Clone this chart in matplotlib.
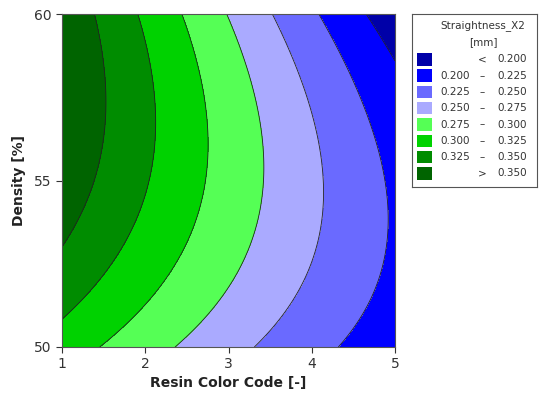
import numpy as np
import matplotlib
matplotlib.use('Agg')
from matplotlib import pyplot as plt
from matplotlib.patches import Rectangle

# response surface coefficients, coded units xc=(x-3)/2, yc=(y-55)/5
# Z = b0 + b1*xc + b2*yc + b11*xc^2 + b22*yc^2 + b12*xc*yc
coef = [0.290, -0.072, 0.008, 0.003, -0.024, -0.020]

levels = [0.0, 0.200, 0.225, 0.250, 0.275, 0.300, 0.325, 0.350, 1.0]
colors = ['#0000a8', '#0000ff', '#6a6aff', '#aaaaff',
          '#55ff55', '#00d200', '#008c00', '#006400']
labels = ['<', '0.200', '0.225', '0.250', '0.275', '0.300', '0.325', '>']
upper = ['0.200', '0.225', '0.250', '0.275', '0.300', '0.325', '0.350', '0.350']

x = np.linspace(1, 5, 300)
y = np.linspace(50, 60, 300)
X, Y = np.meshgrid(x, y)
xc = (X - 3) / 2
yc = (Y - 55) / 5
b0, b1, b2, b11, b22, b12 = coef
Z = b0 + b1*xc + b2*yc + b11*xc**2 + b22*yc**2 + b12*xc*yc

fig = plt.figure(figsize=(5.5, 3.97), dpi=100)
ax = fig.add_axes([62/550, 1-347/397, 333/550, 333/397])
ax.contourf(X, Y, Z, levels=levels, colors=colors)
ax.contour(X, Y, Z, levels=levels[1:-1], colors='#222222', linewidths=0.6)
ax.set_xlim(1, 5)
ax.set_ylim(50, 60)
ax.set_xticks([1, 2, 3, 4, 5])
ax.set_yticks([50, 55, 60])
ax.tick_params(labelsize=10, colors='#333333', length=4, width=0.8)
for s in ax.spines.values():
    s.set_color('#555555')
ax.set_xlabel('Resin Color Code [-]', fontsize=10, fontweight='bold', color='#222222', labelpad=3)
ax.set_ylabel('Density [%]', fontsize=10, fontweight='bold', color='#222222', labelpad=6)

# legend box
lg = fig.add_axes([412/550, 1-187/397, 125/550, 173/397])
lg.set_xlim(412, 537)
lg.set_ylim(187, 14)
lg.set_xticks([])
lg.set_yticks([])
for s in lg.spines.values():
    s.set_color('#555555')
lg.text(483, 26, 'Straightness_X2', ha='center', va='center', fontsize=7.5, color='#333333')
lg.text(483, 42.5, '[mm]', ha='center', va='center', fontsize=7.5, color='#333333')
rows = [59.3, 75.6, 91.9, 108.2, 124.5, 140.8, 157.1, 173.4]
for i in range(len(colors)):
    yy = rows[i]
    lg.add_patch(Rectangle((417, yy-6.3), 15, 12.6, facecolor=colors[i], edgecolor='none'))
    if labels[i] in ('<', '>'):
        lg.text(482, yy, labels[i], ha='center', va='center', fontsize=7.5, color='#333333')
    else:
        lg.text(470, yy, labels[i], ha='right', va='center', fontsize=7.5, color='#333333')
        lg.text(482, yy, '\u2013', ha='center', va='center', fontsize=7.5, color='#333333')
    lg.text(527, yy, upper[i], ha='right', va='center', fontsize=7.5, color='#333333')

fig.savefig('out.png', dpi=100)
